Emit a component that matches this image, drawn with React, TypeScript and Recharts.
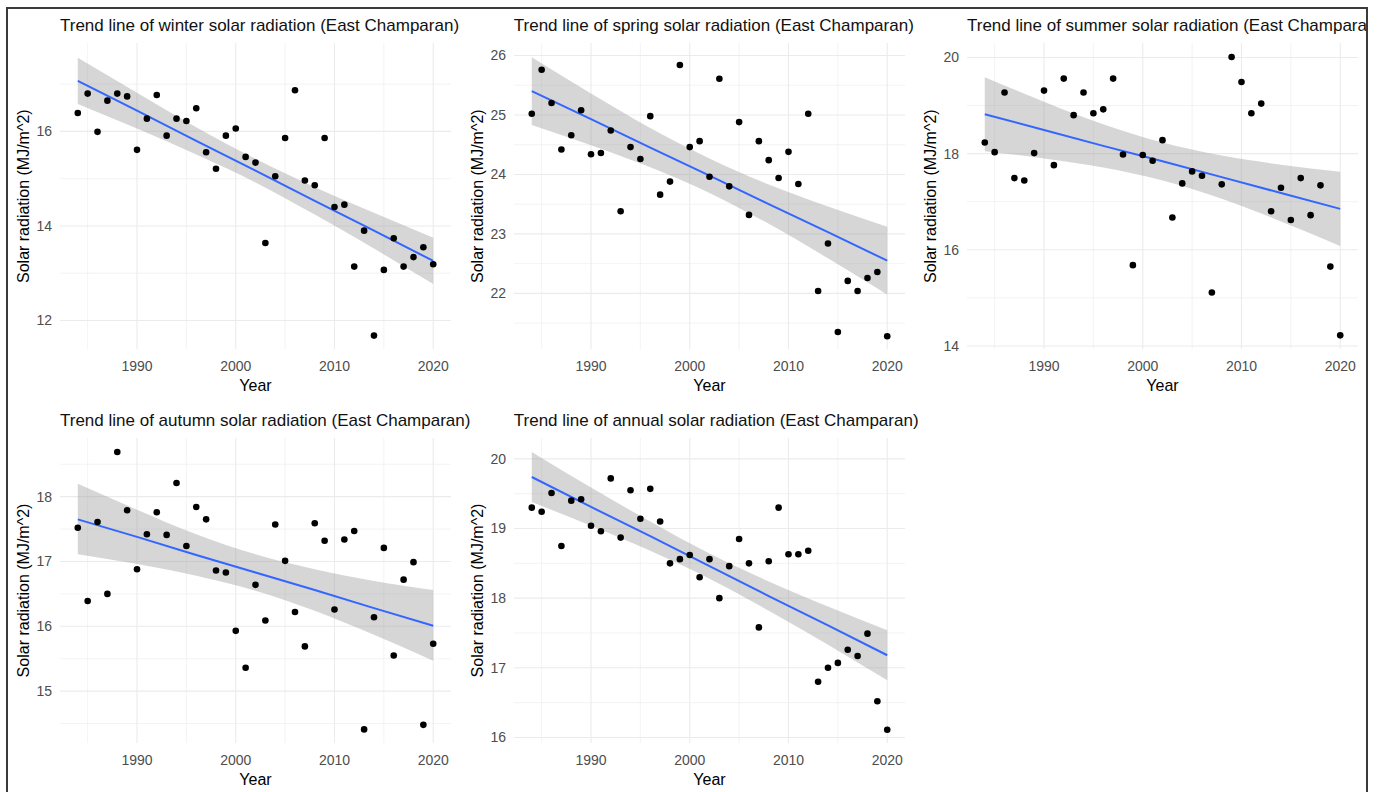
import React from "react";
import {
  ComposedChart,
  Area,
  Line,
  Scatter,
  XAxis,
  YAxis,
  CartesianGrid,
} from "recharts";

const years = [
  1984, 1985, 1986, 1987, 1988, 1989, 1990, 1991, 1992, 1993, 1994, 1995,
  1996, 1997, 1998, 1999, 2000, 2001, 2002, 2003, 2004, 2005, 2006, 2007,
  2008, 2009, 2010, 2011, 2012, 2013, 2014, 2015, 2016, 2017, 2018, 2019,
  2020,
];
const bandYears = [1984, 1990, 1996, 2002, 2008, 2014, 2020];
const yearTicks = [1990, 2000, 2010, 2020];
const yearMinor = [1985, 1995, 2005, 2015];

const winterValues = [
  16.39, 16.8, 15.99, 16.65, 16.8, 16.74, 15.61, 16.27, 16.77, 15.91, 16.27,
  16.22, 16.49, 15.56, 15.21, 15.91, 16.06, 15.46, 15.34, 13.64, 15.05, 15.86,
  16.87, 14.96, 14.86, 15.86, 14.4, 14.45, 13.14, 13.9, 11.68, 13.07, 13.74,
  13.14, 13.34, 13.55, 13.19,
];
const winterFit = [17.07, 16.44, 15.8, 15.17, 14.53, 13.9, 13.26];
const winterUpper = [17.56, 16.82, 16.09, 15.42, 14.82, 14.28, 13.75];
const winterLower = [16.58, 16.06, 15.51, 14.92, 14.24, 13.52, 12.77];

const springValues = [
  25.02, 25.76, 25.2, 24.42, 24.66, 25.08, 24.34, 24.36, 24.74, 23.38, 24.46,
  24.26, 24.98, 23.66, 23.88, 25.84, 24.46, 24.56, 23.96, 25.61, 23.8, 24.88,
  23.32, 24.56, 24.24, 23.94, 24.38, 23.84, 25.02, 22.04, 22.84, 21.35, 22.21,
  22.04, 22.26, 22.36, 21.28,
];
const springFit = [25.4, 24.93, 24.45, 23.98, 23.5, 23.03, 22.55];
const springUpper = [25.97, 25.36, 24.78, 24.27, 23.83, 23.46, 23.12];
const springLower = [24.83, 24.49, 24.12, 23.69, 23.17, 22.59, 21.98];

const summerValues = [
  18.23, 18.03, 19.27, 17.49, 17.44, 18.01, 19.31, 17.76, 19.56, 18.8, 19.27,
  18.84, 18.92, 19.56, 17.98, 15.68, 17.97, 17.85, 18.28, 16.67, 17.38, 17.63,
  17.54, 15.11, 17.36, 20.01, 19.49, 18.84, 19.04, 16.8, 17.29, 16.62, 17.49,
  16.72, 17.34, 15.65, 14.22,
];
const summerFit = [18.82, 18.49, 18.16, 17.84, 17.51, 17.18, 16.85];
const summerUpper = [19.59, 19.08, 18.61, 18.23, 17.96, 17.77, 17.62];
const summerLower = [18.05, 17.9, 17.71, 17.44, 17.06, 16.59, 16.08];

const autumnValues = [
  17.52, 16.39, 17.61, 16.5, 18.69, 17.79, 16.88, 17.42, 17.76, 17.41, 18.21,
  17.24, 17.84, 17.65, 16.86, 16.83, 15.93, 15.36, 16.64, 16.09, 17.57, 17.01,
  16.22, 15.69, 17.59, 17.32, 16.26, 17.34, 17.47, 14.41, 16.14, 17.21, 15.55,
  16.72, 16.99, 14.48, 15.73,
];
const autumnFit = [17.65, 17.38, 17.1, 16.83, 16.56, 16.28, 16.01];
const autumnUpper = [18.2, 17.8, 17.42, 17.11, 16.88, 16.7, 16.56];
const autumnLower = [17.11, 16.96, 16.78, 16.55, 16.24, 15.87, 15.47];

const annualValues = [
  19.3, 19.24, 19.51, 18.75, 19.4, 19.42, 19.04, 18.96, 19.72, 18.87, 19.55,
  19.14, 19.57, 19.1, 18.5, 18.56, 18.62, 18.3, 18.56, 18.0, 18.46, 18.85,
  18.5, 17.58, 18.53, 19.3, 18.63, 18.63, 18.68, 16.8, 17.0, 17.07, 17.26,
  17.17, 17.49, 16.52, 16.11,
];
const annualFit = [19.74, 19.31, 18.89, 18.46, 18.03, 17.61, 17.18];
const annualUpper = [20.1, 19.59, 19.1, 18.64, 18.24, 17.88, 17.54];
const annualLower = [19.38, 19.04, 18.68, 18.28, 17.82, 17.33, 16.82];

const PLOT_W = 391;
const AXIS_W = 74;
const AXIS_H = 72;
const FONT = "'Liberation Sans', Arial, sans-serif";

const Dot = (props: any) => (
  <circle cx={props.cx} cy={props.cy} r={3.3} fill="#000000" />
);

const Panel = ({
  left,
  top,
  height,
  title,
  values,
  fit,
  upper,
  lower,
  domain,
  ticks,
  minor,
}: {
  left: number;
  top: number;
  height: number;
  title: string;
  values: number[];
  fit: number[];
  upper: number[];
  lower: number[];
  domain: [number, number];
  ticks: number[];
  minor: number[];
}) => {
  const points = years.map((year, i) => ({ year, value: values[i] }));
  const trend = bandYears.map((year, i) => ({
    year,
    fit: fit[i],
    band: [lower[i], upper[i]],
  }));
  return (
    <div style={{ position: "absolute", left: left - AXIS_W, top: top - 27 }}>
      <div
        style={{
          position: "absolute",
          left: AXIS_W,
          top: 0,
          fontSize: 17,
          lineHeight: "20px",
          whiteSpace: "nowrap",
          color: "#111",
        }}
      >
        {title}
      </div>
      <div style={{ position: "absolute", left: 0, top: 27 }}>
        <ComposedChart
          width={AXIS_W + PLOT_W}
          height={height + AXIS_H}
          margin={{ top: 0, right: 0, bottom: 0, left: 0 }}
        >
          <CartesianGrid
            stroke="#EBEBEB"
            strokeWidth={0.6}
            horizontalValues={minor}
            verticalValues={yearMinor}
          />
          <CartesianGrid
            stroke="#EBEBEB"
            strokeWidth={1.1}
            horizontalValues={ticks}
            verticalValues={yearTicks}
          />
          <XAxis
            type="number"
            dataKey="year"
            domain={[1982.2, 2021.8]}
            ticks={yearTicks}
            allowDataOverflow
            tickLine={false}
            axisLine={false}
            tickSize={0}
            tickMargin={12}
            height={AXIS_H}
            tick={{ fill: "#4D4D4D", fontSize: 14 }}
            label={{
              value: "Year",
              position: "center",
              fill: "#000",
              fontSize: 16,
            }}
          />
          <YAxis
            type="number"
            domain={domain}
            ticks={ticks}
            allowDataOverflow
            tickLine={false}
            axisLine={false}
            tickSize={0}
            tickMargin={8}
            width={AXIS_W}
            tick={{ fill: "#4D4D4D", fontSize: 14 }}
            label={{
              value: "Solar radiation (MJ/m^2)",
              position: "center",
              angle: -90,
              fill: "#000",
              fontSize: 16,
            }}
          />
          <Area
            data={trend}
            dataKey="band"
            type="monotone"
            stroke="none"
            fill="#999999"
            fillOpacity={0.4}
            isAnimationActive={false}
          />
          <Line
            data={trend}
            dataKey="fit"
            type="linear"
            stroke="#3366FF"
            strokeWidth={2}
            dot={false}
            isAnimationActive={false}
          />
          <Scatter
            data={points}
            dataKey="value"
            shape={Dot}
            isAnimationActive={false}
          />
        </ComposedChart>
      </div>
    </div>
  );
};

export default function App() {
  return (
    <div
      style={{
        position: "absolute",
        left: 0,
        top: 0,
        width: 1383,
        height: 792,
        background: "#fff",
        overflow: "hidden",
        fontFamily: FONT,
      }}
    >
      <div
        style={{
          position: "absolute",
          left: 6,
          top: 7,
          width: 1362,
          height: 800,
          boxSizing: "border-box",
          borderLeft: "2px solid #3a3a3a",
          borderTop: "2px solid #3a3a3a",
          borderRight: "2px solid #3a3a3a",
          overflow: "hidden",
        }}
      >
        <div style={{ position: "absolute", left: -8, top: -9 }}>
          <Panel
            left={60}
            top={42.7}
            height={306.3}
            title="Trend line of winter solar radiation (East Champaran)"
            values={winterValues}
            fit={winterFit}
            upper={winterUpper}
            lower={winterLower}
            domain={[11.39, 17.87]}
            ticks={[12, 14, 16]}
            minor={[13, 15, 17]}
          />
          <Panel
            left={513.8}
            top={42.7}
            height={306.3}
            title="Trend line of spring solar radiation (East Champaran)"
            values={springValues}
            fit={springFit}
            upper={springUpper}
            lower={springLower}
            domain={[21.06, 26.21]}
            ticks={[22, 23, 24, 25, 26]}
            minor={[21.5, 22.5, 23.5, 24.5, 25.5]}
          />
          <Panel
            left={967}
            top={42.7}
            height={306.3}
            title="Trend line of summer solar radiation (East Champaran)"
            values={summerValues}
            fit={summerFit}
            upper={summerUpper}
            lower={summerLower}
            domain={[13.93, 20.3]}
            ticks={[14, 16, 18, 20]}
            minor={[15, 17, 19]}
          />
          <Panel
            left={60}
            top={438}
            height={305}
            title="Trend line of autumn solar radiation (East Champaran)"
            values={autumnValues}
            fit={autumnFit}
            upper={autumnUpper}
            lower={autumnLower}
            domain={[14.2, 18.905]}
            ticks={[15, 16, 17, 18]}
            minor={[14.5, 15.5, 16.5, 17.5, 18.5]}
          />
          <Panel
            left={513.8}
            top={438}
            height={305}
            title="Trend line of annual solar radiation (East Champaran)"
            values={annualValues}
            fit={annualFit}
            upper={annualUpper}
            lower={annualLower}
            domain={[15.92, 20.3]}
            ticks={[16, 17, 18, 19, 20]}
            minor={[16.5, 17.5, 18.5, 19.5]}
          />
        </div>
      </div>
    </div>
  );
}
